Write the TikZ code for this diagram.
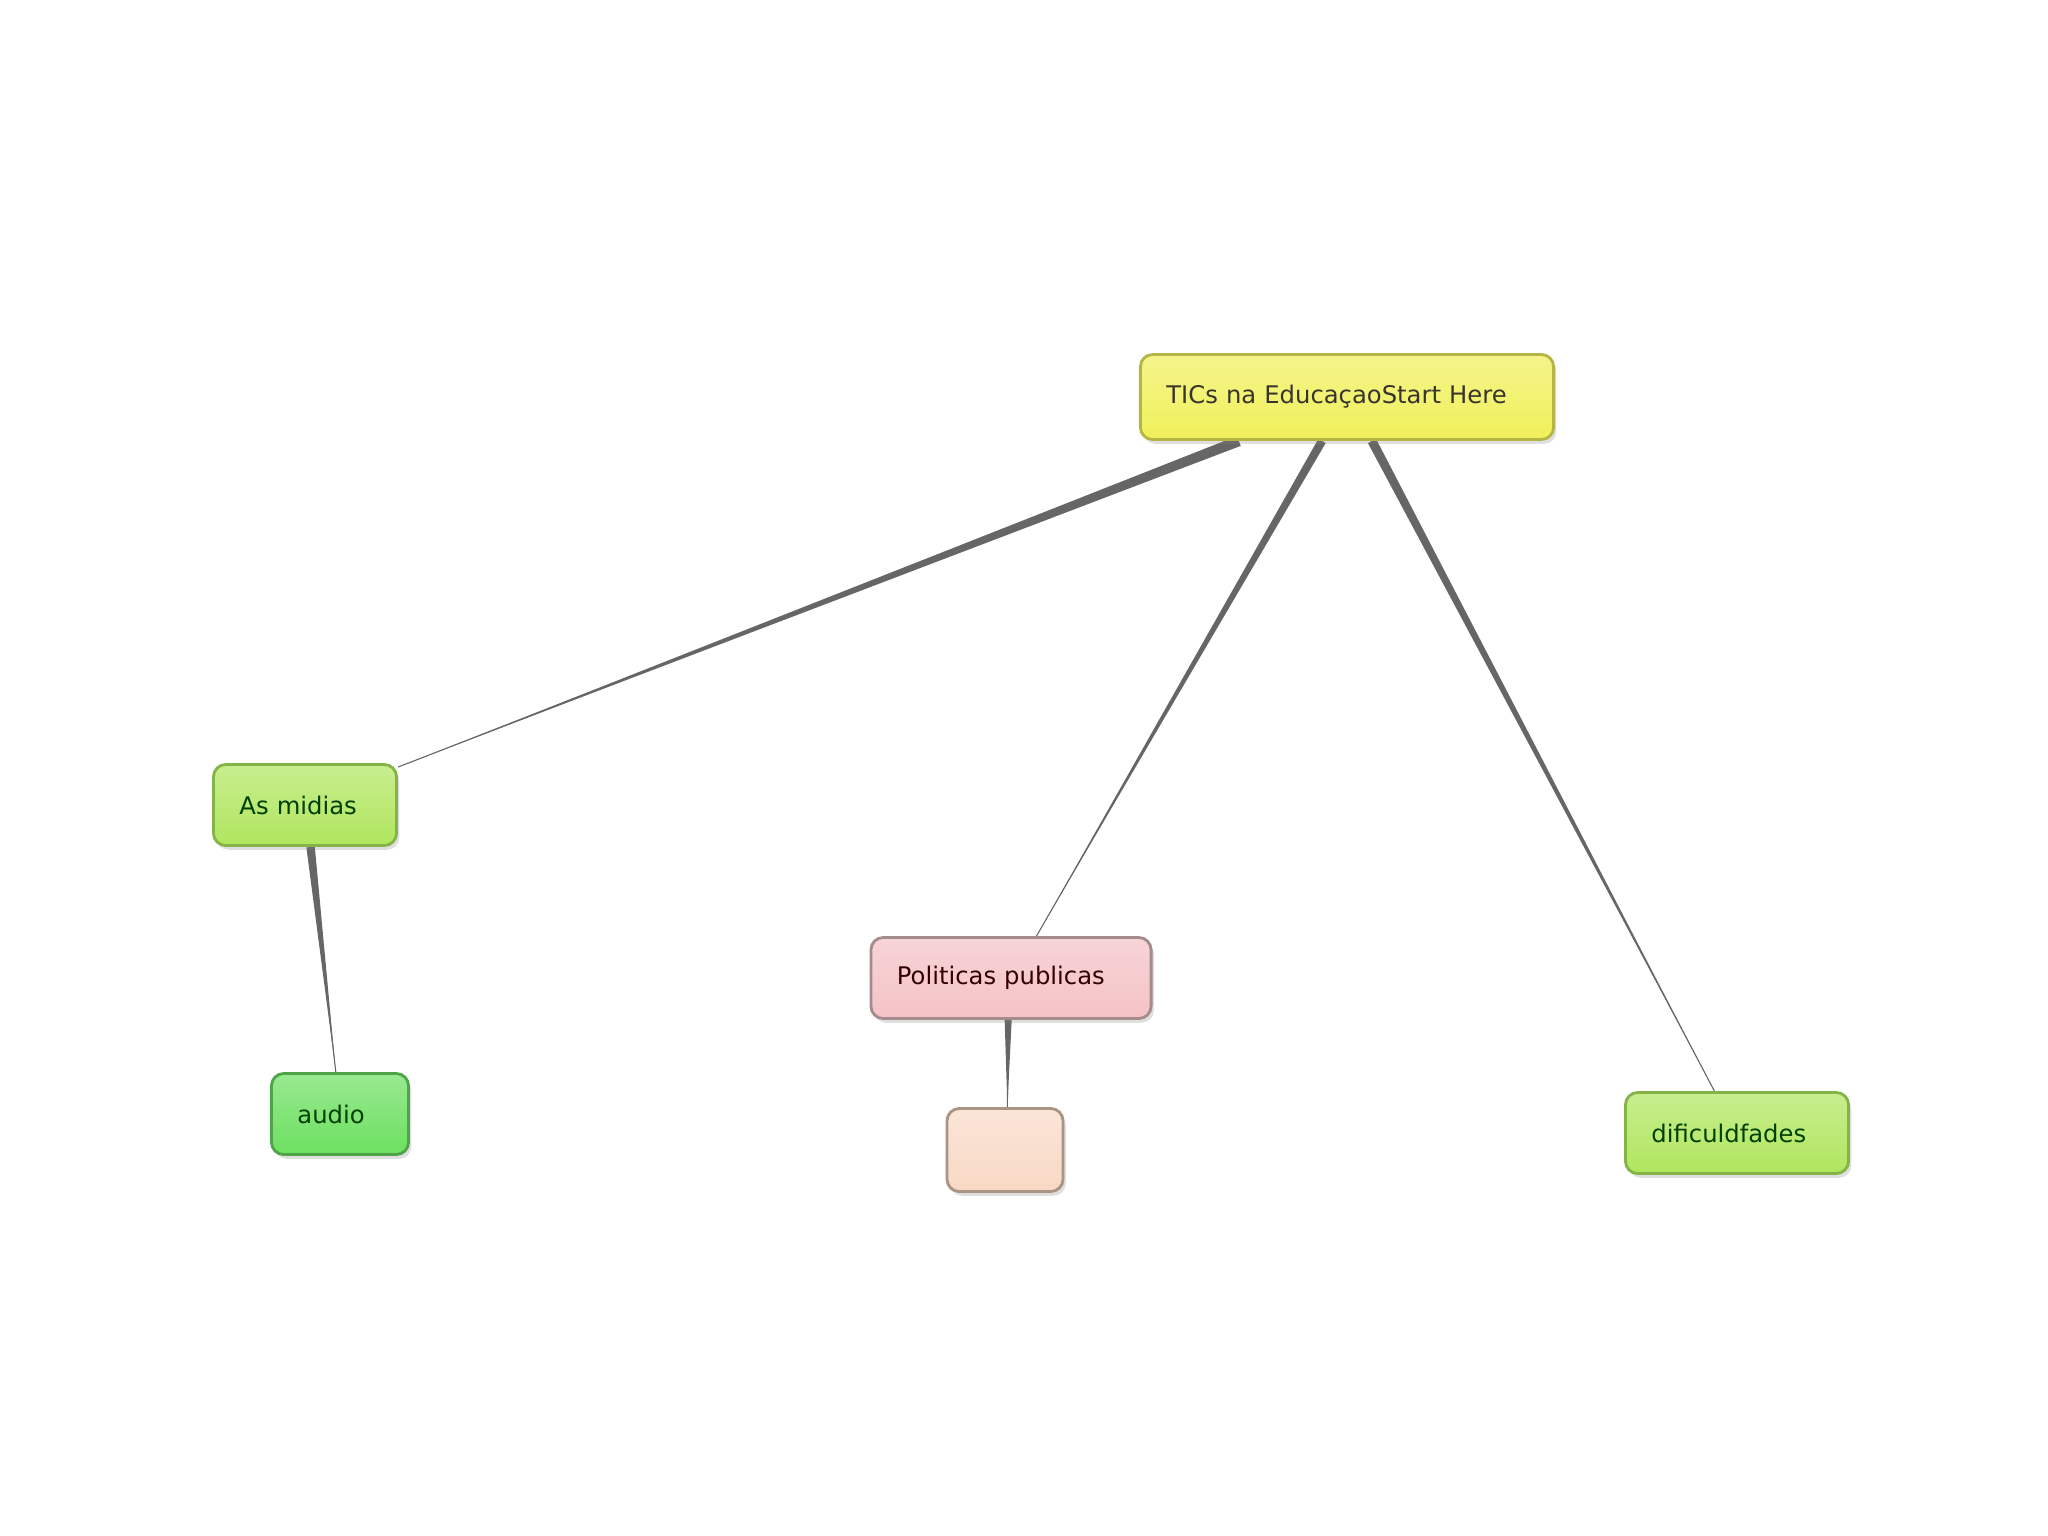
\documentclass[tikz,border=0pt]{standalone}
\usepackage{fontspec}
\setmainfont{DejaVu Sans}
\usepackage{xcolor}
\usepackage{tikz}
\usetikzlibrary{calc, shadows, backgrounds}

\definecolor{edgegray}{HTML}{666666}
\definecolor{ticsfill}{HTML}{F0F05A}
\definecolor{ticsline}{HTML}{B5B545}
\definecolor{midfill}{HTML}{B0E65E}
\definecolor{midline}{HTML}{84B448}
\definecolor{audfill}{HTML}{6CE060}
\definecolor{audline}{HTML}{4EA446}
\definecolor{polfill}{HTML}{F4C2C6}
\definecolor{polline}{HTML}{A48C8C}
\definecolor{emptyfill}{HTML}{F8D8C4}
\definecolor{emptyline}{HTML}{AA9484}

% tapered connector: wide at #1, thin at #2, half width #3
\newcommand{\taperedge}[3]{\fill[edgegray] ($(#1)!#3!90:(#2)$) -- ($(#1)!#3!-90:(#2)$) -- (#2) -- cycle;
  \draw[edgegray, line width=0.3pt] (#1) -- (#2);}

\begin{document}
\begin{tikzpicture}[x=0.01cm, y=-0.01cm,
    topic/.style={draw, rounded corners=3.5pt, line width=0.8pt, minimum height=0.81cm,
        inner xsep=0.26cm, align=left, font=\fontsize{6.9}{8}\selectfont,
        drop shadow={opacity=0.25, shadow xshift=0.8pt, shadow yshift=-1.2pt}},
    root/.style={topic, top color=ticsfill!70!white, bottom color=ticsfill, draw=ticsline, text=black!80!olive},
    lime/.style={topic, top color=midfill!70!white, bottom color=midfill, draw=midline, text=black!75!green},
    grass/.style={topic, top color=audfill!70!white, bottom color=audfill, draw=audline, text=black!75!green},
    rose/.style={topic, top color=polfill!70!white, bottom color=polfill, draw=polline, text=black!80!red},
    peach/.style={topic, top color=emptyfill!65!white, bottom color=emptyfill, draw=emptyline}
]
    \useasboundingbox (0,0) rectangle (2048,1535);

    % Topics
    \node[root, text width=3.61cm, minimum width=4.13cm, minimum height=0.85cm] (tics) at (1347,397) {TICs na EducaçaoStart Here};
    \node[lime, text width=1.31cm, minimum width=1.83cm] (midias) at (305,805) {As midias};
    \node[grass, text width=0.85cm, minimum width=1.37cm] (audio) at (340,1114) {audio};
    \node[rose, text width=2.28cm, minimum width=2.80cm] (politicas) at (1011,978) {Politicas publicas};
    \node[peach, minimum width=1.16cm, minimum height=0.83cm] (vazio) at (1005,1150) {};
    \node[lime, text width=1.71cm, minimum width=2.23cm] (dificuldades) at (1737,1133) {dificuldfades};

    % Connector ends
    \coordinate (t1) at ($(tics.south west)!0.24!(tics.south east)$);
    \coordinate (t2) at ($(tics.south west)!0.44!(tics.south east)$);
    \coordinate (t3) at ($(tics.south west)!0.56!(tics.south east)$);
    \coordinate (m1) at ($(midias.north east)+(0,4)$);
    \coordinate (m2) at ($(midias.south west)!0.53!(midias.south east)$);
    \coordinate (a1) at ($(audio.north west)!0.47!(audio.north east)$);
    \coordinate (p1) at ($(politicas.north west)!0.59!(politicas.north east)$);
    \coordinate (p2) at ($(politicas.south west)!0.49!(politicas.south east)$);
    \coordinate (v1) at ($(vazio.north west)!0.52!(vazio.north east)$);
    \coordinate (d1) at ($(dificuldades.north west)!0.40!(dificuldades.north east)$);

    % Connectors
    \begin{scope}[on background layer]
        \taperedge{t1}{m1}{1.5pt}
        \taperedge{t2}{p1}{1.2pt}
        \taperedge{t3}{d1}{1.3pt}
        \taperedge{m2}{a1}{1.2pt}
        \taperedge{p2}{v1}{1.0pt}
    \end{scope}

\end{tikzpicture}
\end{document}
